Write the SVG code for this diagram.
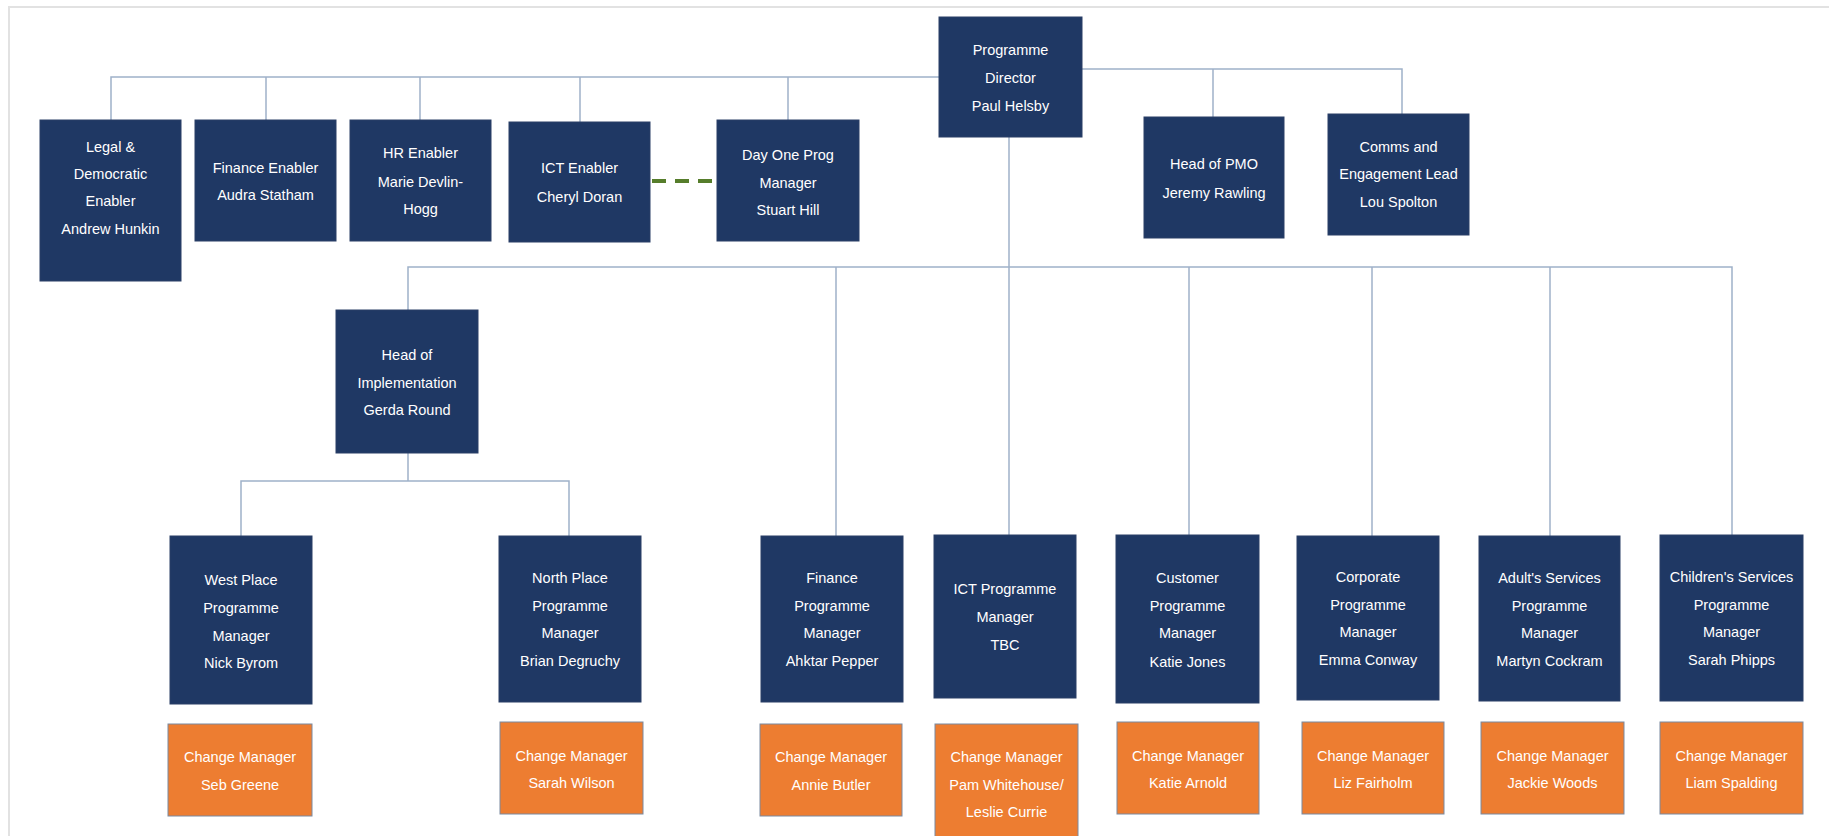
<svg xmlns="http://www.w3.org/2000/svg" width="1837" height="836" viewBox="0 0 1837 836">
<style>
.n{fill:#1f3864;stroke:#2a3f66;stroke-width:1}
.o{fill:#ed7d31;stroke:#7a8aa0;stroke-width:1}
.t{fill:#ffffff;font-family:"Liberation Sans",Arial,sans-serif;font-size:14.5px;text-anchor:middle}
.c{fill:none;stroke:#9fb1c9;stroke-width:1.5}
</style>
<rect width="1837" height="836" fill="#ffffff"/>
<path d="M9 836 V7 H1829" fill="none" stroke="#e2e2e2" stroke-width="2"/>
<g id="connectors">
<path class="c" d="M111 120 V77 H941"/>
<path class="c" d="M266 120 V77"/>
<path class="c" d="M420 120 V77"/>
<path class="c" d="M580 122 V77"/>
<path class="c" d="M788 120 V77"/>
<path class="c" d="M1082 69 H1402 V114"/>
<path class="c" d="M1213 69 V117"/>
<path class="c" d="M1009 137 V535"/>
<path class="c" d="M408 310 V267 H1732 V535"/>
<path class="c" d="M836 267 V536"/>
<path class="c" d="M1189 267 V535"/>
<path class="c" d="M1372 267 V536"/>
<path class="c" d="M1550 267 V536"/>
<path class="c" d="M408 453 V481"/>
<path class="c" d="M241 536 V481 H569 V536"/>
<path d="M652 181 H716" fill="none" stroke="#567d2b" stroke-width="4" stroke-dasharray="14 9"/>
</g>
<g id="legal"><rect class="n" x="40" y="120" width="141" height="161"/><text class="t"><tspan x="110.5" y="152">Legal &amp;</tspan><tspan x="110.5" y="179">Democratic</tspan><tspan x="110.5" y="206">Enabler</tspan><tspan x="110.5" y="234">Andrew Hunkin</tspan></text></g>
<g id="finance-enabler"><rect class="n" x="195" y="120" width="141" height="121"/><text class="t"><tspan x="265.5" y="173">Finance Enabler</tspan><tspan x="265.5" y="200">Audra Statham</tspan></text></g>
<g id="hr-enabler"><rect class="n" x="350" y="120" width="141" height="121"/><text class="t"><tspan x="420.5" y="158">HR Enabler</tspan><tspan x="420.5" y="187">Marie Devlin-</tspan><tspan x="420.5" y="214">Hogg</tspan></text></g>
<g id="ict-enabler"><rect class="n" x="509" y="122" width="141" height="120"/><text class="t"><tspan x="579.5" y="173">ICT Enabler</tspan><tspan x="579.5" y="202">Cheryl Doran</tspan></text></g>
<g id="day-one"><rect class="n" x="717" y="120" width="142" height="121"/><text class="t"><tspan x="788" y="160">Day One Prog</tspan><tspan x="788" y="188">Manager</tspan><tspan x="788" y="215">Stuart Hill</tspan></text></g>
<g id="director"><rect class="n" x="939" y="17" width="143" height="120"/><text class="t"><tspan x="1010.5" y="55">Programme</tspan><tspan x="1010.5" y="83">Director</tspan><tspan x="1010.5" y="111">Paul Helsby</tspan></text></g>
<g id="pmo"><rect class="n" x="1144" y="117" width="140" height="121"/><text class="t"><tspan x="1214" y="169">Head of PMO</tspan><tspan x="1214" y="198">Jeremy Rawling</tspan></text></g>
<g id="comms"><rect class="n" x="1328" y="114" width="141" height="121"/><text class="t"><tspan x="1398.5" y="152">Comms and</tspan><tspan x="1398.5" y="179">Engagement Lead</tspan><tspan x="1398.5" y="207">Lou Spolton</tspan></text></g>
<g id="implementation"><rect class="n" x="336" y="310" width="142" height="143"/><text class="t"><tspan x="407" y="360">Head of</tspan><tspan x="407" y="388">Implementation</tspan><tspan x="407" y="415">Gerda Round</tspan></text></g>
<g id="west"><rect class="n" x="170" y="536" width="142" height="168"/><text class="t"><tspan x="241" y="585">West Place</tspan><tspan x="241" y="613">Programme</tspan><tspan x="241" y="641">Manager</tspan><tspan x="241" y="668">Nick Byrom</tspan></text></g>
<g id="north"><rect class="n" x="499" y="536" width="142" height="166"/><text class="t"><tspan x="570" y="583">North Place</tspan><tspan x="570" y="611">Programme</tspan><tspan x="570" y="638">Manager</tspan><tspan x="570" y="666">Brian Degruchy</tspan></text></g>
<g id="finance-prog"><rect class="n" x="761" y="536" width="142" height="166"/><text class="t"><tspan x="832" y="583">Finance</tspan><tspan x="832" y="611">Programme</tspan><tspan x="832" y="638">Manager</tspan><tspan x="832" y="666">Ahktar Pepper</tspan></text></g>
<g id="ict-prog"><rect class="n" x="934" y="535" width="142" height="163"/><text class="t"><tspan x="1005" y="594">ICT Programme</tspan><tspan x="1005" y="622">Manager</tspan><tspan x="1005" y="650">TBC</tspan></text></g>
<g id="customer"><rect class="n" x="1116" y="535" width="143" height="168"/><text class="t"><tspan x="1187.5" y="583">Customer</tspan><tspan x="1187.5" y="611">Programme</tspan><tspan x="1187.5" y="638">Manager</tspan><tspan x="1187.5" y="667">Katie Jones</tspan></text></g>
<g id="corporate"><rect class="n" x="1297" y="536" width="142" height="164"/><text class="t"><tspan x="1368" y="582">Corporate</tspan><tspan x="1368" y="610">Programme</tspan><tspan x="1368" y="637">Manager</tspan><tspan x="1368" y="665">Emma Conway</tspan></text></g>
<g id="adults"><rect class="n" x="1479" y="536" width="141" height="165"/><text class="t"><tspan x="1549.5" y="583">Adult's Services</tspan><tspan x="1549.5" y="611">Programme</tspan><tspan x="1549.5" y="638">Manager</tspan><tspan x="1549.5" y="666">Martyn Cockram</tspan></text></g>
<g id="childrens"><rect class="n" x="1660" y="535" width="143" height="166"/><text class="t"><tspan x="1731.5" y="582">Children's Services</tspan><tspan x="1731.5" y="610">Programme</tspan><tspan x="1731.5" y="637">Manager</tspan><tspan x="1731.5" y="665">Sarah Phipps</tspan></text></g>
<g id="cm-west"><rect class="o" x="168" y="724" width="144" height="92"/><text class="t"><tspan x="240" y="762">Change Manager</tspan><tspan x="240" y="790">Seb Greene</tspan></text></g>
<g id="cm-north"><rect class="o" x="500" y="722" width="143" height="92"/><text class="t"><tspan x="571.5" y="761">Change Manager</tspan><tspan x="571.5" y="788">Sarah Wilson</tspan></text></g>
<g id="cm-finance"><rect class="o" x="760" y="724" width="142" height="92"/><text class="t"><tspan x="831" y="762">Change Manager</tspan><tspan x="831" y="790">Annie Butler</tspan></text></g>
<g id="cm-ict"><rect class="o" x="935" y="724" width="143" height="115"/><text class="t"><tspan x="1006.5" y="762">Change Manager</tspan><tspan x="1006.5" y="790">Pam Whitehouse/</tspan><tspan x="1006.5" y="817">Leslie Currie</tspan></text></g>
<g id="cm-customer"><rect class="o" x="1117" y="722" width="142" height="92"/><text class="t"><tspan x="1188" y="761">Change Manager</tspan><tspan x="1188" y="788">Katie Arnold</tspan></text></g>
<g id="cm-corporate"><rect class="o" x="1302" y="722" width="142" height="92"/><text class="t"><tspan x="1373" y="761">Change Manager</tspan><tspan x="1373" y="788">Liz Fairholm</tspan></text></g>
<g id="cm-adults"><rect class="o" x="1481" y="722" width="143" height="92"/><text class="t"><tspan x="1552.5" y="761">Change Manager</tspan><tspan x="1552.5" y="788">Jackie Woods</tspan></text></g>
<g id="cm-childrens"><rect class="o" x="1660" y="722" width="143" height="92"/><text class="t"><tspan x="1731.5" y="761">Change Manager</tspan><tspan x="1731.5" y="788">Liam Spalding</tspan></text></g>
</svg>
